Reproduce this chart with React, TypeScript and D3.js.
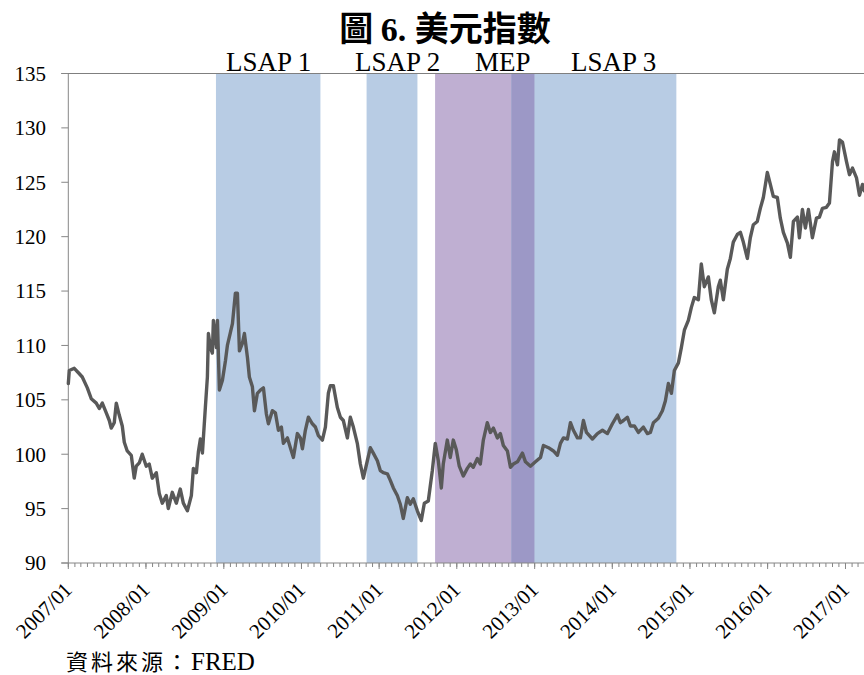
import React from "react";
import * as d3 from "d3";

// Trade-weighted broad dollar index, sampled as decimal years
const years = [
  2007.000, 2007.013, 2007.077, 2007.142, 2007.180, 2007.245, 2007.296, 2007.360, 2007.399, 2007.438,
  2007.489, 2007.528, 2007.553, 2007.592, 2007.618, 2007.656, 2007.695, 2007.721, 2007.759, 2007.811,
  2007.849, 2007.875, 2007.914, 2007.952, 2008.004, 2008.042, 2008.081, 2008.133, 2008.171, 2008.210,
  2008.261, 2008.287, 2008.338, 2008.390, 2008.441, 2008.480, 2008.532, 2008.583, 2008.609, 2008.647,
  2008.673, 2008.699, 2008.725, 2008.763, 2008.789, 2008.802, 2008.828, 2008.853, 2008.866, 2008.905,
  2008.918, 2008.943, 2008.982, 2009.021, 2009.046, 2009.085, 2009.111, 2009.149, 2009.175, 2009.201,
  2009.239, 2009.265, 2009.304, 2009.329, 2009.368, 2009.394, 2009.432, 2009.471, 2009.510, 2009.548,
  2009.574, 2009.625, 2009.664, 2009.703, 2009.741, 2009.767, 2009.819, 2009.857, 2009.896, 2009.947,
  2009.986, 2010.012, 2010.050, 2010.089, 2010.140, 2010.179, 2010.218, 2010.269, 2010.308, 2010.346,
  2010.372, 2010.411, 2010.462, 2010.501, 2010.539, 2010.591, 2010.629, 2010.668, 2010.719, 2010.758,
  2010.797, 2010.848, 2010.887, 2010.925, 2010.977, 2011.015, 2011.054, 2011.106, 2011.144, 2011.183,
  2011.234, 2011.273, 2011.311, 2011.363, 2011.401, 2011.440, 2011.492, 2011.543, 2011.582, 2011.633,
  2011.685, 2011.723, 2011.762, 2011.801, 2011.826, 2011.878, 2011.916, 2011.955, 2011.994, 2012.032,
  2012.084, 2012.135, 2012.174, 2012.212, 2012.264, 2012.302, 2012.341, 2012.392, 2012.431, 2012.470,
  2012.521, 2012.560, 2012.598, 2012.650, 2012.689, 2012.727, 2012.779, 2012.843, 2012.882, 2012.946,
  2013.010, 2013.075, 2013.113, 2013.178, 2013.242, 2013.293, 2013.332, 2013.371, 2013.422, 2013.461,
  2013.499, 2013.551, 2013.589, 2013.628, 2013.667, 2013.744, 2013.808, 2013.873, 2013.937, 2014.001,
  2014.066, 2014.104, 2014.143, 2014.194, 2014.233, 2014.284, 2014.336, 2014.400, 2014.452, 2014.490,
  2014.529, 2014.593, 2014.645, 2014.683, 2014.722, 2014.761, 2014.799, 2014.851, 2014.889, 2014.928,
  2014.979, 2015.018, 2015.056, 2015.108, 2015.146, 2015.185, 2015.237, 2015.275, 2015.314, 2015.365,
  2015.391, 2015.430, 2015.481, 2015.520, 2015.558, 2015.610, 2015.649, 2015.687, 2015.739, 2015.777,
  2015.816, 2015.867, 2015.906, 2015.945, 2015.996, 2016.035, 2016.073, 2016.125, 2016.163, 2016.202,
  2016.254, 2016.292, 2016.331, 2016.382, 2016.408, 2016.447, 2016.485, 2016.524, 2016.575, 2016.627,
  2016.665, 2016.704, 2016.755, 2016.794, 2016.833, 2016.858, 2016.897, 2016.923, 2016.961, 2017.013,
  2017.051, 2017.090, 2017.142, 2017.180, 2017.219, 2017.245,
];

const dollarIndex = [
  106.5, 107.7, 107.9, 107.4, 107.1, 106.1, 105.1, 104.7, 104.2, 104.7,
  103.8, 103.1, 102.4, 102.9, 104.7, 103.6, 102.6, 101.1, 100.3, 99.9,
  97.8, 98.9, 99.2, 100.0, 98.9, 99.1, 97.8, 98.3, 96.4, 95.5,
  96.2, 95.0, 96.5, 95.5, 96.8, 95.5, 94.8, 96.2, 98.7, 98.3,
  100.2, 101.4, 100.1, 104.3, 107.1, 111.1, 109.8, 109.3, 112.3, 109.8,
  112.3, 105.9, 106.8, 108.6, 110.0, 111.2, 112.0, 114.8, 114.8, 109.5,
  110.2, 111.1, 108.9, 107.1, 106.2, 104.0, 105.6, 105.9, 106.1, 103.7,
  102.8, 104.0, 103.8, 102.2, 102.5, 101.0, 101.5, 100.6, 99.7, 101.9,
  101.5, 100.5, 102.2, 103.4, 102.8, 102.5, 101.7, 101.3, 102.5, 105.6,
  106.3, 106.3, 104.3, 103.4, 103.1, 101.5, 103.4, 102.5, 101.0, 99.1,
  97.8, 99.4, 100.6, 100.1, 99.4, 98.5, 98.3, 98.2, 97.6, 96.9,
  96.2, 95.4, 94.1, 96.0, 95.4, 95.9, 94.8, 93.9, 95.5, 95.7,
  98.5, 101.0, 99.4, 96.9, 99.1, 101.3, 99.7, 101.3, 100.4, 98.9,
  98.0, 98.7, 99.1, 98.8, 99.6, 99.1, 101.3, 102.9, 102.0, 102.4,
  101.5, 101.9, 100.8, 100.3, 98.8, 99.1, 99.3, 100.1, 99.3, 98.9,
  99.3, 99.7, 100.8, 100.6, 100.3, 99.9, 101.0, 101.5, 101.4, 102.9,
  102.2, 101.5, 101.5, 103.1, 102.0, 101.4, 101.9, 102.2, 101.9, 102.8,
  103.6, 102.9, 103.1, 103.4, 102.6, 102.6, 102.0, 102.5, 101.9, 102.0,
  102.9, 103.3, 104.0, 104.9, 106.5, 105.6, 107.7, 108.4, 109.8, 111.4,
  112.3, 113.5, 114.4, 114.2, 117.5, 115.4, 116.3, 114.2, 113.0, 115.4,
  116.0, 114.2, 117.0, 118.0, 119.5, 120.2, 120.4, 119.5, 118.0, 119.9,
  121.1, 121.4, 122.6, 123.6, 125.9, 124.8, 123.7, 123.6, 121.7, 120.4,
  119.4, 118.1, 121.4, 121.8, 119.9, 122.5, 120.8, 122.5, 119.9, 121.7,
  121.8, 122.6, 122.7, 123.1, 126.9, 127.8, 126.6, 128.9, 128.7, 126.9,
  125.7, 126.3, 125.4, 123.8, 124.8, 124.2,
];

// Policy programmes shaded behind the series
const programNames = ["LSAP 1", "LSAP 2", "MEP", "LSAP 3"];
const programStarts = ["2008-11-25", "2010-11-03", "2011-09-21", "2012-09-13"];
const programEnds = ["2010-03-31", "2011-06-30", "2012-12-31", "2014-10-29"];

const yTicks = [90, 95, 100, 105, 110, 115, 120, 125, 130, 135];
const xTickLabels = [
  "2007/01", "2008/01", "2009/01", "2010/01", "2011/01", "2012/01",
  "2013/01", "2014/01", "2015/01", "2016/01", "2017/01",
];

const W = 864;
const H = 675;
const left = 68.3;
const right = 864;
const top = 73.5;
const bottom = 563;

const SERIF = "'Liberation Serif', 'Times New Roman', 'DejaVu Serif', serif";
const CJK = "'Noto Sans CJK TC', 'Noto Sans CJK SC', sans-serif";

function fromDecimalYear(t: number): Date {
  const y = Math.floor(t);
  const a = Date.UTC(y, 0, 1);
  const b = Date.UTC(y + 1, 0, 1);
  return new Date(a + (t - y) * (b - a));
}

const parse = d3.utcParse("%Y-%m-%d");

export default function App() {
  const x = d3
    .scaleUtc()
    .domain([new Date(Date.UTC(2007, 0, 1)), new Date(Date.UTC(2017, 2, 29))])
    .range([left, right]);
  const y = d3.scaleLinear().domain([90, 135]).range([bottom, top]);

  const points = years.map((t, i) => ({ date: fromDecimalYear(t), value: dollarIndex[i] }));
  const line = d3
    .line<{ date: Date; value: number }>()
    .x((d) => x(d.date))
    .y((d) => y(d.value));

  const programs = programNames.map((name, i) => ({
    name,
    start: parse(programStarts[i]) as Date,
    end: parse(programEnds[i]) as Date,
  }));

  // Overlapping stretches between programmes get a darker tint
  const overlaps: { start: Date; end: Date }[] = [];
  for (let i = 0; i < programs.length; i++) {
    for (let j = i + 1; j < programs.length; j++) {
      const s = Math.max(+programs[i].start, +programs[j].start);
      const e = Math.min(+programs[i].end, +programs[j].end);
      if (s < e) overlaps.push({ start: new Date(s), end: new Date(e) });
    }
  }

  const months = d3.utcMonth.range(x.domain()[0], x.domain()[1]);
  const yearTicks = d3.utcYear.range(x.domain()[0], x.domain()[1]);

  const labelX = [226, 355, 475, 571];

  return (
    <div style={{ position: "absolute", left: 0, top: 0 }}>
      <svg width={W} height={H} viewBox={`0 0 ${W} ${H}`} style={{ display: "block", background: "#fff" }}>
        {programs.map((p) => (
          <rect
            key={p.name}
            x={x(p.start)}
            y={top}
            width={x(p.end) - x(p.start)}
            height={bottom - top}
            fill={p.name === "MEP" ? "#bfafd2" : "#b8cce4"}
          />
        ))}
        {overlaps.map((o, i) => (
          <rect
            key={"ov" + i}
            x={x(o.start)}
            y={top}
            width={x(o.end) - x(o.start)}
            height={bottom - top}
            fill="#9c98c6"
          />
        ))}

        {/* top frame line */}
        <line x1={left - 7} x2={right} y1={top} y2={top} stroke="#7f7f7f" strokeWidth={1} />
        {/* y axis */}
        <line x1={left} x2={left} y1={top} y2={bottom} stroke="#868686" strokeWidth={1} />
        {yTicks.map((t) => (
          <g key={t}>
            <line x1={left - 7} x2={left} y1={y(t)} y2={y(t)} stroke="#868686" />
            <text
              x={46}
              y={y(t)}
              dy="0.35em"
              textAnchor="end"
              fontFamily={SERIF}
              fontSize={21}
              fill="#000"
            >
              {t}
            </text>
          </g>
        ))}

        {/* x axis */}
        <line x1={left - 7} x2={right} y1={bottom} y2={bottom} stroke="#868686" strokeWidth={1} />
        {months.map((m, i) => (
          <line key={i} x1={x(m)} x2={x(m)} y1={bottom} y2={bottom + 4} stroke="#868686" />
        ))}
        {yearTicks.map((m, i) => (
          <g key={"y" + i}>
            <line x1={x(m)} x2={x(m)} y1={bottom} y2={bottom + 6} stroke="#868686" />
            <text
              transform={`translate(${x(m) + 5},${bottom + 28}) rotate(-45)`}
              textAnchor="end"
              fontFamily={SERIF}
              fontSize={21}
              fill="#000"
            >
              {xTickLabels[i]}
            </text>
          </g>
        ))}

        <path
          d={line(points) || ""}
          fill="none"
          stroke="#595959"
          strokeWidth={3.4}
          strokeLinejoin="round"
          strokeLinecap="round"
        />

        {/* titles */}
        <text x={445} y={41} textAnchor="middle" fontSize={34} fontWeight={700} fill="#000">
          <tspan fontFamily={CJK}>圖 </tspan>
          <tspan fontFamily={SERIF}>6. </tspan>
          <tspan fontFamily={CJK}>美元指數</tspan>
        </text>
        {programs.map((p, i) => (
          <text key={"lab" + p.name} x={labelX[i]} y={71} fontFamily={SERIF} fontSize={27} fill="#000">
            {p.name}
          </text>
        ))}

        <text x={66} y={670} fill="#000">
          <tspan fontFamily={CJK} fontSize={22} letterSpacing={3}>資料來源：</tspan>
          <tspan fontFamily={SERIF} fontSize={25}>FRED</tspan>
        </text>
      </svg>
    </div>
  );
}
